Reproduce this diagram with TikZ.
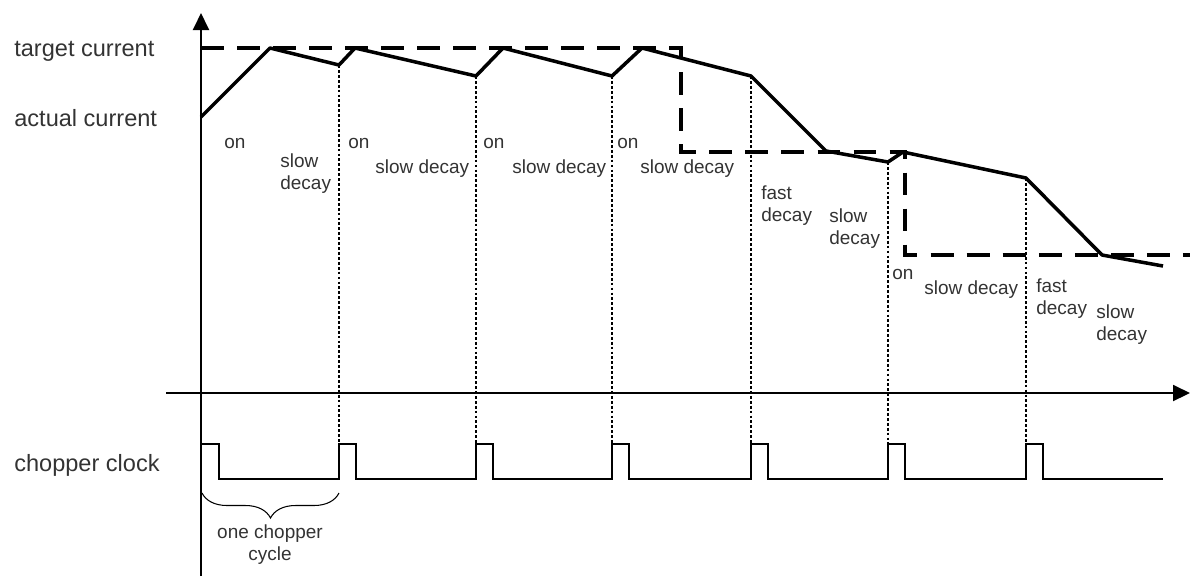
\documentclass[tikz,border=0pt]{standalone}
\usepackage{fontspec}
\setmainfont{Liberation Sans}
\usetikzlibrary{arrows.meta,decorations.pathreplacing}

\tikzset{
  sidelabel/.style={font=\fontsize{13.4}{16}\selectfont,inner sep=0pt,anchor=base west,text=black!80},
  phase/.style={font=\fontsize{10.8}{12.5}\selectfont,align=left,inner sep=0pt,anchor=base west,text=black!80},
  targetline/.style={line width=2pt,dash pattern=on 13pt off 7.5pt},
  currentline/.style={line width=2pt,line join=round},
  guide/.style={line width=0.6pt,dash pattern=on 1.6pt off 1.2pt},
  clockline/.style={line width=0.9pt}
}

\begin{document}
\begin{tikzpicture}[x=0.2mm,y=-0.2mm]
    \useasboundingbox (0,0) rectangle (1190,576);

    % axes
    \begin{scope}[-{Triangle[length=0.34cm,width=0.32cm]},line width=1.1pt]
        \draw (201,576) -- (201,13);
        \draw (166,393) -- (1190,393);
    \end{scope}

    \node[sidelabel] (target) at (14,56) {target current};
    \node[sidelabel] (actual) at (14,126) {actual current};
    \node[sidelabel] (clock) at (14,471) {chopper clock};

    % target current
    \draw[targetline] (201,48) -- (681,48) -- (681,152) -- (905,152) -- (905,255) -- (1190,255);

    % actual current
    \coordinate (c0) at (201,117);
    \coordinate (p1) at (270,48);
    \coordinate (v1) at (339,65);
    \coordinate (p2) at (355,48);
    \coordinate (v2) at (476,76);
    \coordinate (p3) at (503,48);
    \coordinate (v3) at (612,76);
    \coordinate (p4) at (642,48);
    \coordinate (v4) at (751,76);
    \coordinate (f1) at (826,151);
    \coordinate (v5) at (888,162);
    \coordinate (p6) at (903,152);
    \coordinate (v6) at (1026,178);
    \coordinate (f2) at (1102,255);
    \coordinate (c1) at (1163,266);
    \draw[currentline] (c0) -- (p1) -- (v1) -- (p2) -- (v2) -- (p3) -- (v3) -- (p4) -- (v4)
        -- (f1) -- (v5) -- (p6) -- (v6) -- (f2) -- (c1);

    % chopper cycle boundaries
    \coordinate (high) at (0,444);
    \foreach \v in {v1,v2,v3,v4,v5,v6} {
            \draw[guide] (\v) -- (\v |- high);
        }

    % chopper clock
    \draw[clockline] (201,444) -- (219,444) -- (219,479)
        \foreach \x in {339,476,612,751,888,1026} { -- (\x,479) -- (\x,444) -- (\x+17,444) -- (\x+17,479) }
        -- (1163,479);

    \draw[line width=0.6pt,decorate,decoration={brace,mirror,amplitude=0.5cm}] (202,493) -- (339,493);
    \node[phase,align=center,anchor=base] (cycle) at (270,560) {one chopper\\cycle};

    % phases (two-line labels sit on the baseline of their last line)
    \node[phase] (on1) at (224,148) {on};
    \node[phase] (sd1) at (280,189) {slow\\decay};
    \node[phase] (on2) at (348,148) {on};
    \node[phase] (sd2) at (375,173) {slow decay};
    \node[phase] (on3) at (483,148) {on};
    \node[phase] (sd3) at (512,173) {slow decay};
    \node[phase] (on4) at (617,148) {on};
    \node[phase] (sd4) at (640,173) {slow decay};
    \node[phase] (fd5) at (761,221) {fast\\decay};
    \node[phase] (sd5) at (829,244) {slow\\decay};
    \node[phase] (on6) at (892,279) {on};
    \node[phase] (sd6) at (924,294) {slow decay};
    \node[phase] (fd7) at (1036,314) {fast\\decay};
    \node[phase] (sd7) at (1096,340) {slow\\decay};
\end{tikzpicture}
\end{document}
